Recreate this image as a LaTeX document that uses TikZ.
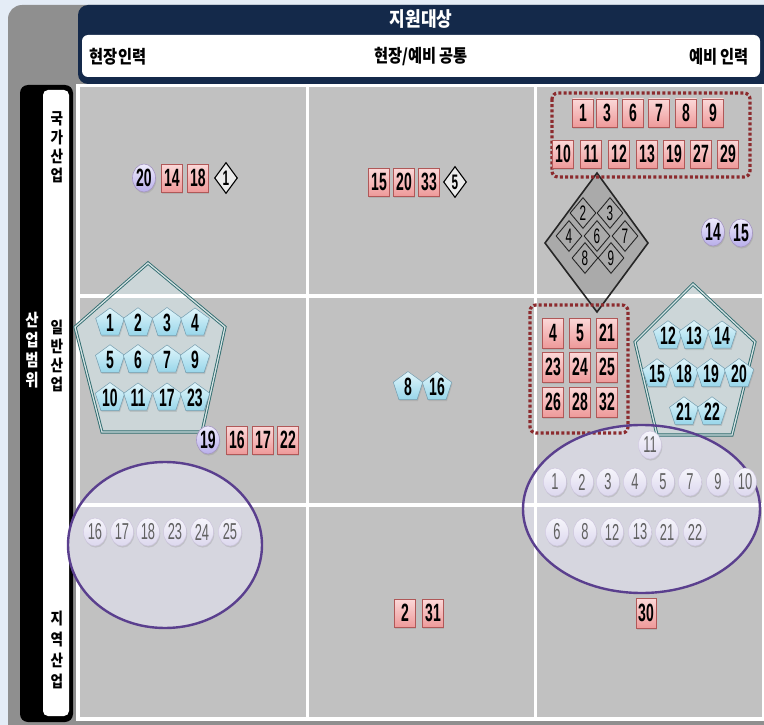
\documentclass[tikz,border=0pt]{standalone}
\usepackage{fontspec}
\setmainfont{Liberation Sans}
\newfontfamily\krf[FakeStretch=0.85]{Noto Sans CJK KR}
\newfontfamily\numf[FakeStretch=0.56]{Liberation Sans}
\usetikzlibrary{shapes.geometric,shadows}
\definecolor{bgblue}{HTML}{E4ECF6}
\definecolor{framegray}{HTML}{8F8F8F}
\definecolor{navy}{HTML}{14294A}
\definecolor{cellgray}{HTML}{C1C1C1}
\definecolor{sqtop}{HTML}{FBD8D8}
\definecolor{sqbot}{HTML}{EE9A9A}
\definecolor{sqdraw}{HTML}{B05858}
\definecolor{purp}{HTML}{5A3F8E}
\definecolor{ellfill}{HTML}{D6D6DF}
\definecolor{teal}{HTML}{2E6B6E}
\definecolor{pentfill}{HTML}{CCD6D8}
\definecolor{dotred}{HTML}{8C2B2E}
\definecolor{diafill}{HTML}{AAAAAA}
\definecolor{lavtop}{HTML}{EEEBFC}
\definecolor{lavbot}{HTML}{B8AEEA}
\definecolor{lavltop}{HTML}{F6F5FB}
\definecolor{lavlbot}{HTML}{DCD8EE}
\definecolor{cyantop}{HTML}{E2F6FB}
\definecolor{cyanbot}{HTML}{98D6EA}
\newcommand\numbig{\numf\bfseries\fontsize{25}{25}\selectfont}
\newcommand\numsm{\numf\fontsize{23}{23}\selectfont}
\tikzset{
  shd/.style={drop shadow={opacity=0.25,shadow xshift=0.8pt,shadow yshift=-1.6pt}},
  sq/.style={rectangle,draw=sqdraw,line width=0.7,top color=sqtop,bottom color=sqbot,
    minimum width=21,minimum height=28,inner sep=0,font=\numbig,shd},
  darkc/.style={ellipse,draw=purp!55,line width=0.6,top color=lavtop,bottom color=lavbot,
    minimum width=23,minimum height=28,inner sep=0,font=\numbig,shd},
  lavc/.style={ellipse,draw=purp!30,line width=0.5,top color=lavltop,bottom color=lavlbot,
    minimum width=23,minimum height=28,inner sep=0,font=\numsm,text=black!62,shd},
  pent/.style={regular polygon,regular polygon sides=5,draw=cyan!50!black!70,line width=0.5,
    top color=cyantop,bottom color=cyanbot,minimum size=30,inner sep=0,font=\numbig,shd},
  wdia/.style={diamond,draw=black,line width=1.1,fill=white!92!black,minimum width=23,minimum height=31,
    inner sep=0,font=\numf\bfseries\fontsize{21}{21}\selectfont},
  gdia/.style={diamond,draw=black!85,line width=0.9,fill=diafill,minimum width=26,minimum height=31,
    inner sep=0,font=\numf\fontsize{21}{21}\selectfont},
  bigpent/.style={draw=teal,double=white!80!teal,double distance=1.3pt,line width=0.9pt},
  dotbox/.style={draw=dotred,line width=3.2pt,dash pattern=on 3pt off 2.2pt,rounded corners=6pt},
  bigell/.style={draw=purp,line width=2.4pt},
  hdr/.style={font=\krf\bfseries\fontsize{18}{18}\selectfont,text=black},
  rowlab/.style={font=\krf\bfseries\fontsize{16}{19}\selectfont,align=center,inner sep=0},
}
\begin{document}
\begin{tikzpicture}[x=1pt,y=-1pt]
\useasboundingbox (0,0) rectangle (764,725);
% background and frame
\fill[bgblue] (0,0) rectangle (764,725);
\fill[framegray,rounded corners=14pt] (8,5) rectangle (780,740);
\fill[navy,rounded corners=10pt] (78,5) rectangle (780,84);
\fill[white,rounded corners=6pt] (82,35) rectangle (760,77);
\node[font=\krf\bfseries\fontsize{20}{20}\selectfont,text=white] (title) at (421,19) {지원대상};
\node[hdr] (h1) at (118,57) {현장인력};
\node[hdr] (h2) at (421,57) {현장/예비 공통};
\node[hdr] (h3) at (719,57) {예비 인력};
% left bar
\fill[black,rounded corners=8pt] (20,85) rectangle (73,722);
\fill[white,rounded corners=5pt] (43,90) rectangle (69,716);
\node[rowlab,font=\krf\bfseries\fontsize{17}{20}\selectfont,text=white] (scope) at (32,350) {산\\업\\범\\위};
\node[rowlab] (r1) at (57,147) {국\\가\\산\\업};
\node[rowlab] (r2) at (57,356) {일\\반\\산\\업};
\node[rowlab,font=\krf\bfseries\fontsize{16}{21}\selectfont] (r3) at (57,650) {지\\역\\산\\업};
% grid
\fill[white] (76,84) rectangle (764,721);
\fill[cellgray] (80,87) rectangle (762,717);
% shape fills
\fill[ellfill] (165,545) ellipse [x radius=97, y radius=83];
\fill[ellfill] (641.5,509) ellipse [x radius=118.5, y radius=84];
\fill[pentfill] (148,263) -- (225,327) -- (202,432) -- (102,432) -- (75,327) -- cycle;
\fill[pentfill] (693,284) -- (755,342) -- (732,435) -- (657,435) -- (635,342) -- cycle;
\fill[diafill] (597,173) -- (648,243) -- (597,312) -- (545,243) -- cycle;
% grid lines
\draw[white,line width=3.5pt] (307.5,87) -- (307.5,717);
\draw[white,line width=3.5pt] (535.5,87) -- (535.5,717);
\draw[white,line width=3.5pt] (80,296) -- (762,296);
\draw[white,line width=3.5pt] (80,505) -- (762,505);
% outlines
\draw[bigpent] (148,263) -- (225,327) -- (202,432) -- (102,432) -- (75,327) -- cycle;
\draw[bigpent] (693,284) -- (755,342) -- (732,435) -- (657,435) -- (635,342) -- cycle;
\draw[black!85,line width=1.6pt,line join=miter] (597,173) -- (648,243) -- (597,312) -- (545,243) -- cycle;
\draw[dotbox] (552,93) rectangle (750,177);
\draw[dotbox] (530,305) rectangle (628,433);
\draw[bigell] (165,545) ellipse [x radius=97, y radius=83];
\draw[bigell] (641.5,509) ellipse [x radius=118.5, y radius=84];
% row 1, col 1
\node[darkc] (a20) at (144,178) {20};
\node[sq] (a14) at (172,178) {14};
\node[sq] (a18) at (198,178) {18};
\node[wdia] (a1) at (226,178) {1};
% row 1, col 2
\node[sq] (b15) at (379,182) {15};
\node[sq] (b20) at (404,182) {20};
\node[sq] (b33) at (429,182) {33};
\node[wdia] (b5) at (455,182) {5};
% row 1, col 3
\foreach \n/\x in {1/583,3/607,6/633,7/659,8/686,9/713}
  \node[sq] (ca\n) at (\x,113) {\n};
\foreach \n/\x in {10/563,11/591,12/619,13/647,19/674,27/701,29/728}
  \node[sq] (cb\n) at (\x,154) {\n};
\node[gdia] (cd2) at (583,213) {2};
\node[gdia] (cd3) at (610,213) {3};
\node[gdia] (cd4) at (569,236) {4};
\node[gdia] (cd6) at (597,236) {6};
\node[gdia] (cd7) at (625,236) {7};
\node[gdia] (cd8) at (585,258) {8};
\node[gdia] (cd9) at (611,258) {9};
\node[darkc] (cc14) at (713,232) {14};
\node[darkc] (cc15) at (741,233) {15};
% row 2, col 1
\foreach \n/\x in {1/110,2/138,3/167,4/195}
  \node[pent] (da\n) at (\x,323) {\n};
\foreach \n/\x in {5/110,6/138,7/167,9/195}
  \node[pent] (db\n) at (\x,360) {\n};
\foreach \n/\x in {10/110,11/138,17/167,23/195}
  \node[pent] (dc\n) at (\x,398) {\n};
\node[darkc] (d19) at (208,440) {19};
\node[sq] (d16) at (237,440) {16};
\node[sq] (d17) at (263,440) {17};
\node[sq] (d22) at (288,440) {22};
% row 2, col 2
\node[pent] (e8) at (408,387) {8};
\node[pent] (e16) at (437,387) {16};
% row 2, col 3
\foreach \n/\x in {4/553,5/580,21/607}
  \node[sq,minimum height=30] (fa\n) at (\x,333) {\n};
\foreach \n/\x in {23/553,24/580,25/607}
  \node[sq,minimum height=30] (fb\n) at (\x,367) {\n};
\foreach \n/\x in {26/553,28/580,32/607}
  \node[sq,minimum height=30] (fc\n) at (\x,402) {\n};
\foreach \n/\x in {12/668,13/694,14/722}
  \node[pent] (ga\n) at (\x,336) {\n};
\foreach \n/\x in {15/657,18/684,19/711,20/739}
  \node[pent] (gb\n) at (\x,374) {\n};
\foreach \n/\x in {21/684,22/712}
  \node[pent] (gc\n) at (\x,412) {\n};
\node[lavc] (h11) at (650,445) {11};
\foreach \n/\x in {1/555,2/582,3/608,4/635,5/663,7/690,9/718,10/745}
  \node[lavc] (ha\n) at (\x,482) {\n};
\foreach \n/\x in {6/557,8/585,12/612,13/640,21/667,22/695}
  \node[lavc] (hb\n) at (\x,532) {\n};
% row 3, col 1
\foreach \n/\x in {16/95,17/122,18/148,23/175,24/202,25/230}
  \node[lavc] (k\n) at (\x,532) {\n};
% row 3, col 2
\node[sq] (m2) at (405,613) {2};
\node[sq] (m31) at (433,613) {31};
% row 3, col 3
\node[sq,minimum width=20,minimum height=30] (n30) at (646,613) {30};
\end{tikzpicture}
\end{document}
